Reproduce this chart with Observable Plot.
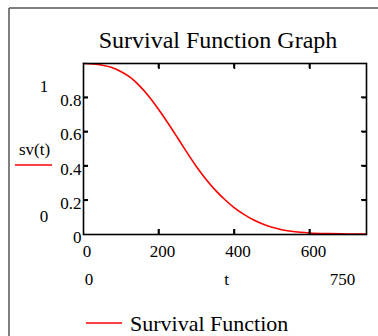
<!DOCTYPE html>
<html><head><meta charset="utf-8">
<script src="https://cdn.jsdelivr.net/npm/d3@7"></script>
<script src="https://cdn.jsdelivr.net/npm/@observablehq/plot@0.6"></script>
<style>
body{margin:0;background:#fff;}
#chart{width:378px;height:336px;overflow:hidden;}
svg{display:block;}
#chart svg, #chart svg text{font-family:"Liberation Serif","Times New Roman",serif;}
</style></head><body><div id="chart"></div>
<script>
// Data
const tValues  = [0, 25, 50, 75, 100, 125, 150, 175, 200, 225, 250, 275, 300, 325, 350, 375, 400, 425, 450, 475, 500, 525, 550, 575, 600, 650, 700, 750];
const svValues = [1.0, 0.997, 0.99, 0.977, 0.952, 0.917, 0.866, 0.802, 0.728, 0.648, 0.563, 0.477, 0.395, 0.322, 0.258, 0.203, 0.156, 0.118, 0.086, 0.061, 0.042, 0.028, 0.019, 0.013, 0.009, 0.005, 0.003, 0.002];
const xTicks = [0, 200, 400, 600];
const yTicks = [0, 0.2, 0.4, 0.6, 0.8];
const xInnerTicks = [200, 400, 600];
const yInnerTicks = [0.2, 0.4, 0.6, 0.8];
const titleText = "Survival Function Graph";
const yName = "sv(t)";
const xName = "t";
const yLimits = ["1", "0"];
const xLimits = ["0", "750"];
const legendText = "Survival Function";

const data = tValues.map((t, i) => ({t, sv: svValues[i]}));
const font = "Liberation Serif";
const tick = 5;

const svg = Plot.plot({
  width: 378,
  height: 336,
  marginLeft: 83,
  marginRight: 12,
  marginTop: 63,
  marginBottom: 102,
  style: {background: "#fff", color: "#000", fontFamily: font},
  x: {domain: [0, 750], label: null, axis: null},
  y: {domain: [0, 1], label: null, axis: null},
  marks: [
    Plot.line(data, {x: "t", y: "sv", stroke: "#ff0000", strokeWidth: 1.6, curve: "monotone-x"}),
    Plot.frame({stroke: "#000", strokeWidth: 1.6}),
    Plot.axisX(xTicks, {anchor: "bottom", tickSize: 0, tickPadding: 10, dx: 3.5, fontSize: 17, fontFamily: font, fill: "#000", label: null}),
    Plot.axisX(xInnerTicks, {anchor: "bottom", tickSize: tick, dy: -tick, fill: "none", stroke: "#000", strokeWidth: 1.6, label: null}),
    Plot.axisX(xInnerTicks, {anchor: "top", tickSize: tick, dy: tick, fill: "none", stroke: "#000", strokeWidth: 1.6, label: null}),
    Plot.axisY(yTicks, {anchor: "left", tickSize: 0, tickPadding: 2, dy: 3, fontSize: 17, fontFamily: font, fill: "#000", label: null, tickFormat: d => String(d)}),
    Plot.axisY(yInnerTicks, {anchor: "left", tickSize: tick, dx: tick, fill: "none", stroke: "#000", strokeWidth: 1.6, label: null}),
    Plot.axisY(yInnerTicks, {anchor: "right", tickSize: tick, dx: -tick, fill: "none", stroke: "#000", strokeWidth: 1.6, label: null})
  ]
});

const s = d3.select(svg);
s.attr("font-family", font);
s.selectAll("g[font-family]").attr("font-family", font);
s.selectAll("text").attr("font-family", font);

// inward ticks drawn again through Plot's own scales (robust fallback)
const xs = svg.scale("x"), ys = svg.scale("y");
const [fx0, fx1] = xs.range, [fy0, fy1] = ys.range; // fy0 bottom, fy1 top
const tg = s.append("g").attr("stroke", "#000").attr("stroke-width", 1.6);
xInnerTicks.forEach(v => {
  const px = xs.apply(v);
  tg.append("line").attr("x1", px).attr("x2", px).attr("y1", fy0).attr("y2", fy0 - tick);
  tg.append("line").attr("x1", px).attr("x2", px).attr("y1", fy1).attr("y2", fy1 + tick);
});
yInnerTicks.forEach(v => {
  const py = ys.apply(v);
  tg.append("line").attr("x1", fx0).attr("x2", fx0 + tick).attr("y1", py).attr("y2", py);
  tg.append("line").attr("x1", fx1).attr("x2", fx1 - tick).attr("y1", py).attr("y2", py);
});

// outer region border (left and top edges visible)
s.append("line").attr("x1", 9).attr("x2", 9).attr("y1", 8).attr("y2", 336).attr("stroke", "#555").attr("stroke-width", 1.5);
s.append("line").attr("x1", 9).attr("x2", 378).attr("y1", 8).attr("y2", 8).attr("stroke", "#555").attr("stroke-width", 1.5);

function txt(str, x, y, size, anchor) {
  s.append("text").attr("x", x).attr("y", y).attr("font-size", size).attr("font-family", font)
   .attr("text-anchor", anchor || "middle").attr("fill", "#000").text(str);
}
txt(titleText, 218, 48, 24);
txt(yLimits[0], 44, 91.5, 17);
txt(yLimits[1], 44, 221.5, 17);
txt(yName, 34.5, 155, 17);
s.append("line").attr("x1", 15).attr("x2", 52).attr("y1", 165).attr("y2", 165).attr("stroke", "#ff0000").attr("stroke-width", 1.5);
txt(xLimits[0], 89, 285, 17);
txt(xName, 226.5, 285, 17);
txt(xLimits[1], 342.5, 285, 17);
s.append("line").attr("x1", 86).attr("x2", 122).attr("y1", 323).attr("y2", 323).attr("stroke", "#ff0000").attr("stroke-width", 1.5);
txt(legendText, 130, 331, 22, "start");

document.getElementById("chart").appendChild(svg);
</script></body></html>
